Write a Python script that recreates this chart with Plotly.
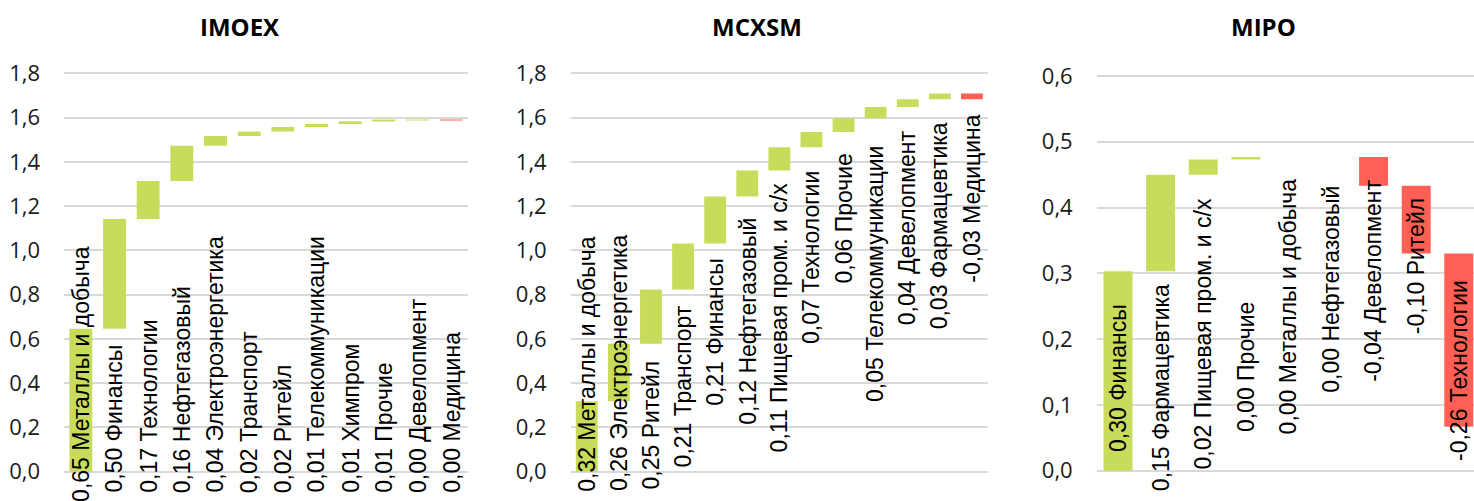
import plotly.graph_objects as go

# ---------------- data ----------------
imoex_cats = ["Металлы и добыча", "Финансы", "Технологии", "Нефтегазовый",
              "Электроэнергетика", "Транспорт", "Ритейл", "Телекоммуникации",
              "Химпром", "Прочие", "Девелопмент", "Медицина"]
imoex_vals = [0.646, 0.496, 0.172, 0.159, 0.044, 0.021, 0.020, 0.014,
              0.012, 0.006, 0.002, -0.002]

mcxsm_cats = ["Металлы и добыча", "Электроэнергетика", "Ритейл", "Транспорт",
              "Финансы", "Нефтегазовый", "Пищевая пром. и с/х", "Технологии",
              "Прочие", "Телекоммуникации", "Девелопмент", "Фармацевтика", "Медицина"]
mcxsm_vals = [0.319, 0.259, 0.246, 0.208, 0.212, 0.117, 0.106, 0.068,
              0.063, 0.050, 0.036, 0.026, -0.026]

mipo_cats = ["Финансы", "Фармацевтика", "Пищевая пром. и с/х", "Прочие",
             "Металлы и добыча", "Нефтегазовый", "Девелопмент", "Ритейл", "Технологии"]
mipo_vals = [0.303, 0.147, 0.023, 0.004, 0.0, 0.0, -0.044, -0.103, -0.263]

titles = ["IMOEX", "MCXSM", "MIPO"]

# ---------------- layout (label start positions, in axis units) ----------------
imoex_label_y = [-0.1415] + [-0.1008] * 11
mcxsm_label_y = [-0.0963, -0.0918, -0.0827, 0.0154, 0.2939, 0.2066, 0.0845,
                 0.5728, 0.8441, 0.3092, 0.6587, 0.6406, 0.8517]
mipo_label_y = [0.0269, -0.0324, 0.0, 0.0569, 0.0543, 0.1177, 0.1329, 0.2063, 0.0137]

GREEN = "#C9DB5B"
RED = "#FF5F54"
W, H = 1474, 501


def fmt(v):
    s = f"{v:.2f}".replace(".", ",")
    if s == "-0,00":
        s = "0,00"
    return s


panels = [
    dict(cats=imoex_cats, vals=imoex_vals, ly=imoex_label_y, title=titles[0],
         xdom=[64 / W, 468 / W], xr=[-0.5, 11.5], yr=[-0.05, 1.85], dt=0.2,
         ydom=[(H - 482.8) / H, (H - 62.4) / H], tx=240),
    dict(cats=mcxsm_cats, vals=mcxsm_vals, ly=mcxsm_label_y, title=titles[1],
         xdom=[570.7 / W, 988 / W], xr=[-0.5, 12.5], yr=[-0.05, 1.85], dt=0.2,
         ydom=[(H - 482.8) / H, (H - 62.4) / H], tx=757),
    dict(cats=mipo_cats, vals=mipo_vals, ly=mipo_label_y, title=titles[2],
         xdom=[1096.7 / W, 1.0], xr=[-0.5, 8.357], yr=[-0.01, 0.615], dt=0.1,
         ydom=[(H - 477.3) / H, (H - 66.1) / H], tx=1263),
]

fig = go.Figure()
annotations = []
for i, p in enumerate(panels):
    n = "" if i == 0 else str(i + 1)
    fig.add_trace(go.Waterfall(
        x=p["cats"], y=p["vals"], measure=["relative"] * len(p["vals"]),
        xaxis="x" + n, yaxis="y" + n,
        increasing=dict(marker=dict(color=GREEN, line=dict(width=0))),
        decreasing=dict(marker=dict(color=RED, line=dict(width=0))),
        connector=dict(visible=False), textinfo="none", hoverinfo="skip",
        showlegend=False,
    ))
    fig.layout["xaxis" + n] = dict(domain=p["xdom"], range=p["xr"], type="category",
                                   showticklabels=False, showgrid=False, zeroline=False,
                                   anchor="y" + n, fixedrange=True, automargin=False)
    fig.layout["yaxis" + n] = dict(domain=p["ydom"], range=p["yr"], tick0=0, dtick=p["dt"],
                                   tickformat=".1f", showgrid=True, gridcolor="#D9D9D9",
                                   gridwidth=1.5, zeroline=False, showline=False,
                                   anchor="x" + n, ticklabelstandoff=23, automargin=False,
                                   fixedrange=True,
                                   tickfont=dict(family="Open Sans", size=22, color="#1a1a1a"))
    y0, y1 = p["yr"]
    d0, d1 = p["ydom"]
    for c, v, ly in zip(p["cats"], p["vals"], p["ly"]):
        py = d0 + (ly - y0) / (y1 - y0) * (d1 - d0)
        annotations.append(dict(
            x=c, y=py, xref="x" + n, yref="paper", text=f"{fmt(v)} {c}",
            textangle=-90, xanchor="center", yanchor="bottom", showarrow=False,
            font=dict(family="Liberation Sans", size=23, color="#000000"),
            borderpad=0,
        ))
    annotations.append(dict(
        x=p["tx"] / W, y=(H - 26) / H, xref="paper", yref="paper", text=f"<b>{p['title']}</b>",
        showarrow=False, xanchor="center", yanchor="middle",
        font=dict(family="Open Sans", size=24, color="#000000"),
    ))

fig.update_layout(
    width=W, height=H, margin=dict(l=0, r=0, t=0, b=0, autoexpand=False),
    paper_bgcolor="white", plot_bgcolor="white",
    separators=", ", waterfallgap=0.32,
    annotations=annotations,
)
fig.write_html("out.html", config={"displayModeBar": False},
               post_script="document.body.style.margin='0px';document.body.style.overflow='hidden';")
